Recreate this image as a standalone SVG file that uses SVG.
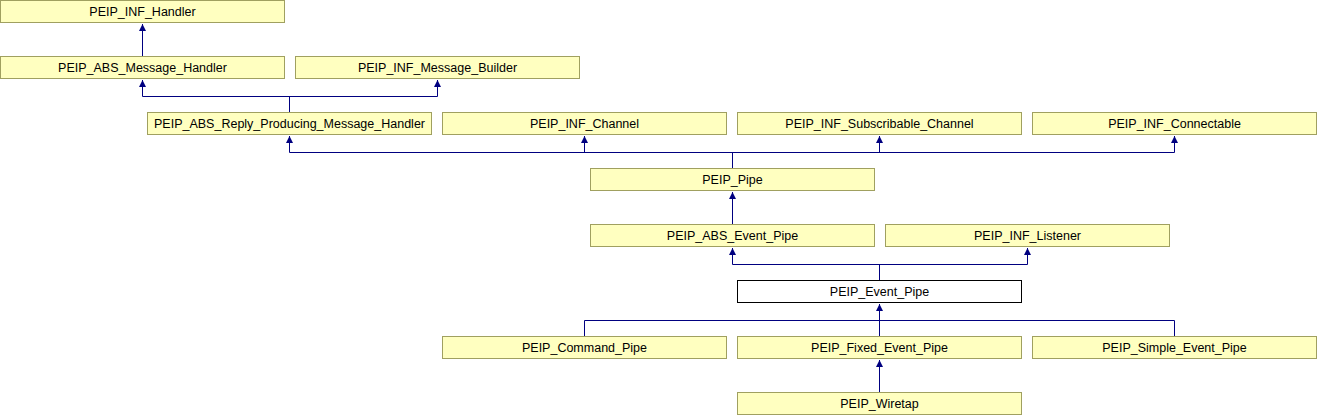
<svg xmlns="http://www.w3.org/2000/svg" width="1317" height="416" viewBox="0 0 1317 416">
<style>
.n rect{fill:#ffffc0;stroke:#a0a060;stroke-width:1}
.n.cur rect{fill:#ffffff;stroke:#000000}
.n text{font-family:"Liberation Sans",Arial,sans-serif;font-size:12.5px;fill:#000000;text-anchor:middle}
.e path{fill:none;stroke:#000080;stroke-width:1}
.e polygon{fill:#000080;stroke:none}
</style>
<rect width="1317" height="416" fill="#ffffff"/>
<g id="connectors" class="e">
<path d="M142.5,56 V24"/><polygon points="142.5,24 139,31 146,31"/>
<path d="M289.5,112 V96.5 M142.5,96.5 H437.5 M142.5,96.5 V80 M437.5,96.5 V80"/>
<polygon points="142.5,80 139,87 146,87"/><polygon points="437.5,80 434,87 441,87"/>
<path d="M732.5,168 V152.5 M289.5,152.5 H1174.5 M289.5,152.5 V136 M584.5,152.5 V136 M879.5,152.5 V136 M1174.5,152.5 V136"/>
<polygon points="289.5,136 286,143 293,143"/><polygon points="584.5,136 581,143 588,143"/><polygon points="879.5,136 876,143 883,143"/><polygon points="1174.5,136 1171,143 1178,143"/>
<path d="M732.5,224 V192"/><polygon points="732.5,192 729,199 736,199"/>
<path d="M879.5,280 V264.5 M732.5,264.5 H1027.5 M732.5,264.5 V248 M1027.5,264.5 V248"/>
<polygon points="732.5,248 729,255 736,255"/><polygon points="1027.5,248 1024,255 1031,255"/>
<path d="M584.5,336 V320.5 M584.5,320.5 H1174.5 M1174.5,320.5 V336 M879.5,336 V304"/>
<polygon points="879.5,304 876,311 883,311"/>
<path d="M879.5,392 V360"/><polygon points="879.5,360 876,367 883,367"/>
</g>
<g id="PEIP_INF_Handler" class="n"><rect x="0.5" y="0.5" width="284" height="22"/><text x="142.5" y="16">PEIP_INF_Handler</text></g>
<g id="PEIP_ABS_Message_Handler" class="n"><rect x="0.5" y="56.5" width="284" height="22"/><text x="142.5" y="72">PEIP_ABS_Message_Handler</text></g>
<g id="PEIP_INF_Message_Builder" class="n"><rect x="295.5" y="56.5" width="284" height="22"/><text x="437.5" y="72">PEIP_INF_Message_Builder</text></g>
<g id="PEIP_ABS_Reply_Producing_Message_Handler" class="n"><rect x="147.5" y="112.5" width="284" height="22"/><text x="289.5" y="128">PEIP_ABS_Reply_Producing_Message_Handler</text></g>
<g id="PEIP_INF_Channel" class="n"><rect x="442.5" y="112.5" width="284" height="22"/><text x="584.5" y="128">PEIP_INF_Channel</text></g>
<g id="PEIP_INF_Subscribable_Channel" class="n"><rect x="737.5" y="112.5" width="284" height="22"/><text x="879.5" y="128">PEIP_INF_Subscribable_Channel</text></g>
<g id="PEIP_INF_Connectable" class="n"><rect x="1032.5" y="112.5" width="284" height="22"/><text x="1174.5" y="128">PEIP_INF_Connectable</text></g>
<g id="PEIP_Pipe" class="n"><rect x="590.5" y="168.5" width="284" height="22"/><text x="732.5" y="184">PEIP_Pipe</text></g>
<g id="PEIP_ABS_Event_Pipe" class="n"><rect x="590.5" y="224.5" width="284" height="22"/><text x="732.5" y="240">PEIP_ABS_Event_Pipe</text></g>
<g id="PEIP_INF_Listener" class="n"><rect x="885.5" y="224.5" width="284" height="22"/><text x="1027.5" y="240">PEIP_INF_Listener</text></g>
<g id="PEIP_Event_Pipe" class="n cur"><rect x="737.5" y="280.5" width="284" height="22"/><text x="879.5" y="296">PEIP_Event_Pipe</text></g>
<g id="PEIP_Command_Pipe" class="n"><rect x="442.5" y="336.5" width="284" height="22"/><text x="584.5" y="352">PEIP_Command_Pipe</text></g>
<g id="PEIP_Fixed_Event_Pipe" class="n"><rect x="737.5" y="336.5" width="284" height="22"/><text x="879.5" y="352">PEIP_Fixed_Event_Pipe</text></g>
<g id="PEIP_Simple_Event_Pipe" class="n"><rect x="1032.5" y="336.5" width="284" height="22"/><text x="1174.5" y="352">PEIP_Simple_Event_Pipe</text></g>
<g id="PEIP_Wiretap" class="n"><rect x="737.5" y="392.5" width="284" height="22"/><text x="879.5" y="408">PEIP_Wiretap</text></g>
</svg>
